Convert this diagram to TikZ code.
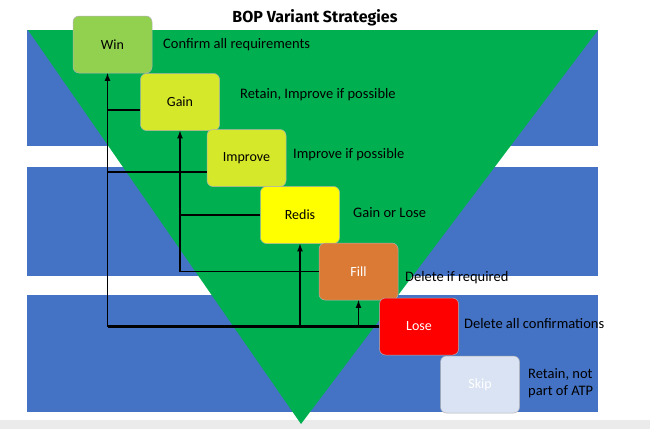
\documentclass[tikz,border=0pt]{standalone}
\usepackage{fontspec}
\setmainfont{Carlito}
\newfontfamily\titlefont{Fira Sans}
\definecolor{bandblue}{HTML}{4472C4}
\definecolor{funnel}{HTML}{00B050}
\definecolor{cwin}{HTML}{92D050}
\definecolor{cgain}{HTML}{D6E82A}
\definecolor{credis}{HTML}{FFFF00}
\definecolor{cfill}{HTML}{DA7A35}
\definecolor{close}{HTML}{FF0000}
\definecolor{cskip}{HTML}{DAE3F3}
\begin{document}
\begin{tikzpicture}[x=1pt,y=-1pt,>=latex,
	box/.style={draw=black!30,line width=0.5pt,rounded corners=6pt,minimum width=79pt,minimum height=57pt,font=\fontsize{14}{16}\selectfont},
	note/.style={anchor=west,inner sep=0pt,font=\fontsize{14.5}{17}\selectfont},
	link/.style={line width=1.6pt}]
	\useasboundingbox (0,0) rectangle (650,429);
	\fill[white] (0,0) rectangle (650,429);
	\fill[black!8] (0,420) rectangle (650,429);
	% bands and funnel
	\fill[bandblue] (27,30)  rectangle (598,146);
	\fill[bandblue] (27,167) rectangle (598,276);
	\fill[bandblue] (27,295) rectangle (598,412);
	\fill[funnel] (28,30) -- (598,30) -- (301,424) -- cycle;
	\path (315,18) node (title) {\titlefont\bfseries\fontsize{16}{18}\selectfont BOP Variant Strategies};

	\path (112.5,44.5) node [box,fill=cwin]             (win)     {Win};
	\path (180,102)    node [box,fill=cgain]            (gain)    {Gain};
	\path (246.5,158)  node [box,fill=cgain]            (improve) {Improve};
	\path (300,215)    node [box,fill=credis]           (redis)   {Redis};
	\path (358.5,271.5) node [box,fill=cfill,text=white] (fill)   {Fill};
	\path (419,326.5)  node [box,fill=close,text=white] (lose)    {Lose};
	\path (480,384.5)  node [box,fill=cskip,text=white] (skip)    {Skip};

	\path (163,45)  node [note] (winNote)     {Confirm all requirements};
	\path (240,95)  node [note] (gainNote)    {Retain, Improve if possible};
	\path (293,155) node [note] (improveNote) {Improve if possible};
	\path (353,213) node [note] (redisNote)   {Gain or Lose};
	\path (405,278) node [note] (fillNote)    {Delete if required};
	\path (464,324) node [note] (loseNote)    {Delete all confirmations};
	\path (528,383.5) node [note,align=left] (skipNote) {Retain, not\\part of ATP};

	\coordinate (winIn) at ([xshift=-5pt]win.south);
	\draw[link,line width=2.2pt] (lose.west) -- (lose.west -| winIn);
	\draw[link,->] (lose.west -| winIn) -- (winIn);
	\draw[link] ([yshift=-8pt]gain.west) -- ([yshift=-8pt]gain.west -| winIn);
	\draw[link] ([yshift=-14pt]improve.west) -- ([yshift=-14pt]improve.west -| winIn);
	\draw[link,->] (fill.west) -| (gain.south);
	\draw[link] (redis.west) -- (redis.west -| gain.south);
	\draw[link,->] (lose.west -| redis.south) -- (redis.south);
	\draw[link,->] (lose.west -| fill.south) -- (fill.south);
\end{tikzpicture}
\end{document}
